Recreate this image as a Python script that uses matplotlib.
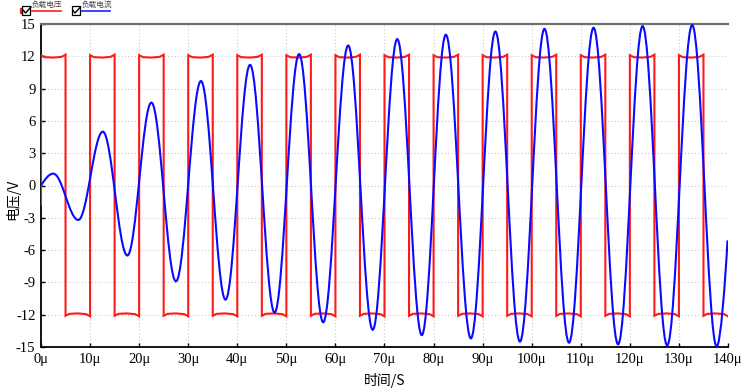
import numpy as np
import matplotlib
matplotlib.use("Agg")
import matplotlib.pyplot as plt
from matplotlib.path import Path
from matplotlib.patches import PathPatch, Rectangle
from matplotlib.lines import Line2D

plt.rcParams['font.family'] = ['Liberation Serif', 'Noto Sans CJK SC', 'DejaVu Sans']

# 负载电流 extrema (time in µs, value in V)
cur_t = [0, 2.5, 7.6, 12.6, 17.6, 22.5, 27.5, 32.6, 37.6, 42.6, 47.6, 52.6, 57.5,
         62.6, 67.6, 72.6, 77.6, 82.5, 87.6, 92.6, 97.6, 102.6, 107.6, 112.6,
         117.6, 122.6, 127.6, 132.7, 137.7, 139.9]
cur_v = [0, 1.1, -3.2, 5.0, -6.5, 7.7, -8.9, 9.7, -10.6, 11.2, -11.8, 12.2, -12.7,
         13.0, -13.4, 13.6, -13.9, 14.0, -14.2, 14.3, -14.5, 14.55, -14.6, 14.65,
         -14.75, 14.8, -14.85, 14.9, -14.95, -5.1]

# 负载电压: square wave, 5 µs half periods, high first
half_period = 5
n_halves = 28
v_start = -1.8
# level profile inside one half period (offset in µs, |V|)
sag_t = [0, 0.8, 2.5, 4.2, 5]
sag_v = [12.1, 11.92, 11.88, 11.95, 12.15]

xticks = list(range(0, 141, 10))
yticks = list(range(-15, 16, 3))

W, H = 746, 392
fig = plt.figure(figsize=(W / 100, H / 100), dpi=100)
ax = fig.add_axes([41 / W, 1 - 347 / H, (728 - 41) / W, (347 - 24) / H])

# square wave
vt = [0]
vv = [v_start]
for i in range(n_halves):
    s = 1 if i % 2 == 0 else -1
    for dt, lv in zip(sag_t, sag_v):
        vt.append(i * half_period + dt)
        vv.append(s * lv)
ax.plot(vt, vv, color='#ff1a1a', lw=1.5, zorder=3, solid_joinstyle='miter')

# current: smooth path through the extrema
k = 0.364
verts = [(cur_t[0], cur_v[0])]
codes = [Path.MOVETO]
for i in range(len(cur_t) - 1):
    t0, v0 = cur_t[i], cur_v[i]
    t1, v1 = cur_t[i + 1], cur_v[i + 1]
    d = t1 - t0
    if i == 0:
        c1 = (t0 + d / 3, 0.69 * d / 3)
        c2 = (t1 - 0.36 * d, v1)
    elif i == len(cur_t) - 2:
        c1 = (t0 + 0.35 * d, v0)
        c2 = (t1 - 0.2 * d, v1 - 0.2 * d * 8.5)
    else:
        c1 = (t0 + k * d, v0)
        c2 = (t1 - k * d, v1)
    verts += [c1, c2, (t1, v1)]
    codes += [Path.CURVE4] * 3
ax.add_patch(PathPatch(Path(verts, codes), fill=False, edgecolor='#0a0aff',
                       lw=1.5, zorder=4))

ax.set_xlim(0, 140)
ax.set_ylim(-15, 15)
ax.set_xticks(xticks)
ax.set_xticklabels([f"{x}μ" for x in xticks])
ax.set_yticks(yticks)
ax.set_yticklabels([str(y) for y in yticks])
ax.tick_params(direction='in', length=3, width=1, labelsize=10.5, pad=4)
ax.grid(True, linestyle=(0, (1, 2)), color='#cccccc', lw=0.8)
ax.set_axisbelow(True)
ax.spines['right'].set_visible(False)
ax.spines['top'].set_color('#707070')
ax.spines['top'].set_linewidth(1.6)
ax.spines['left'].set_linewidth(1.3)
ax.spines['bottom'].set_linewidth(1.3)

fig.text(13 / W, 1 - 199 / H, "电压/V", rotation=90, ha='center', va='center',
         fontsize=10, family=['Noto Sans CJK SC', 'DejaVu Sans'])
fig.text(385 / W, 1 - 381 / H, "时间/S", ha='center', va='center',
         fontsize=10, family=['Noto Sans CJK SC', 'DejaVu Sans'])


# legend drawn in pixel positions
def px(x, y):
    return x / W, 1 - y / H


def checkbox(x, y):
    fig.patches.append(Rectangle(px(x, y + 8), 8 / W, 8 / H, transform=fig.transFigure,
                                 fill=False, edgecolor='black', lw=0.9))
    xs, ys = zip(px(x + 1.5, y + 4), px(x + 3.5, y + 6.5), px(x + 9, y + 0.5))
    fig.lines.append(Line2D(xs, ys, transform=fig.transFigure, color='black', lw=1.0))


fig.patches.append(Rectangle(px(20, 12.5), 2 / W, 4.5 / H, transform=fig.transFigure,
                             color='#ff2020'))
checkbox(22, 6.5)
fig.text(*px(32, 5), "负载电压", fontsize=5.5, va='center', ha='left', color='#444444',
         family=['Noto Sans CJK SC'])
xs, ys = zip(px(32, 10.5), px(61, 10.5))
fig.lines.append(Line2D(xs, ys, transform=fig.transFigure, color='#ff2020', lw=1.2))
checkbox(71.5, 6.5)
fig.text(*px(82, 5), "负载电流", fontsize=5.5, va='center', ha='left', color='#444444',
         family=['Noto Sans CJK SC'])
xs, ys = zip(px(82, 10.5), px(110, 10.5))
fig.lines.append(Line2D(xs, ys, transform=fig.transFigure, color='#2020ff', lw=1.2))

fig.savefig("out.png", dpi=100)
